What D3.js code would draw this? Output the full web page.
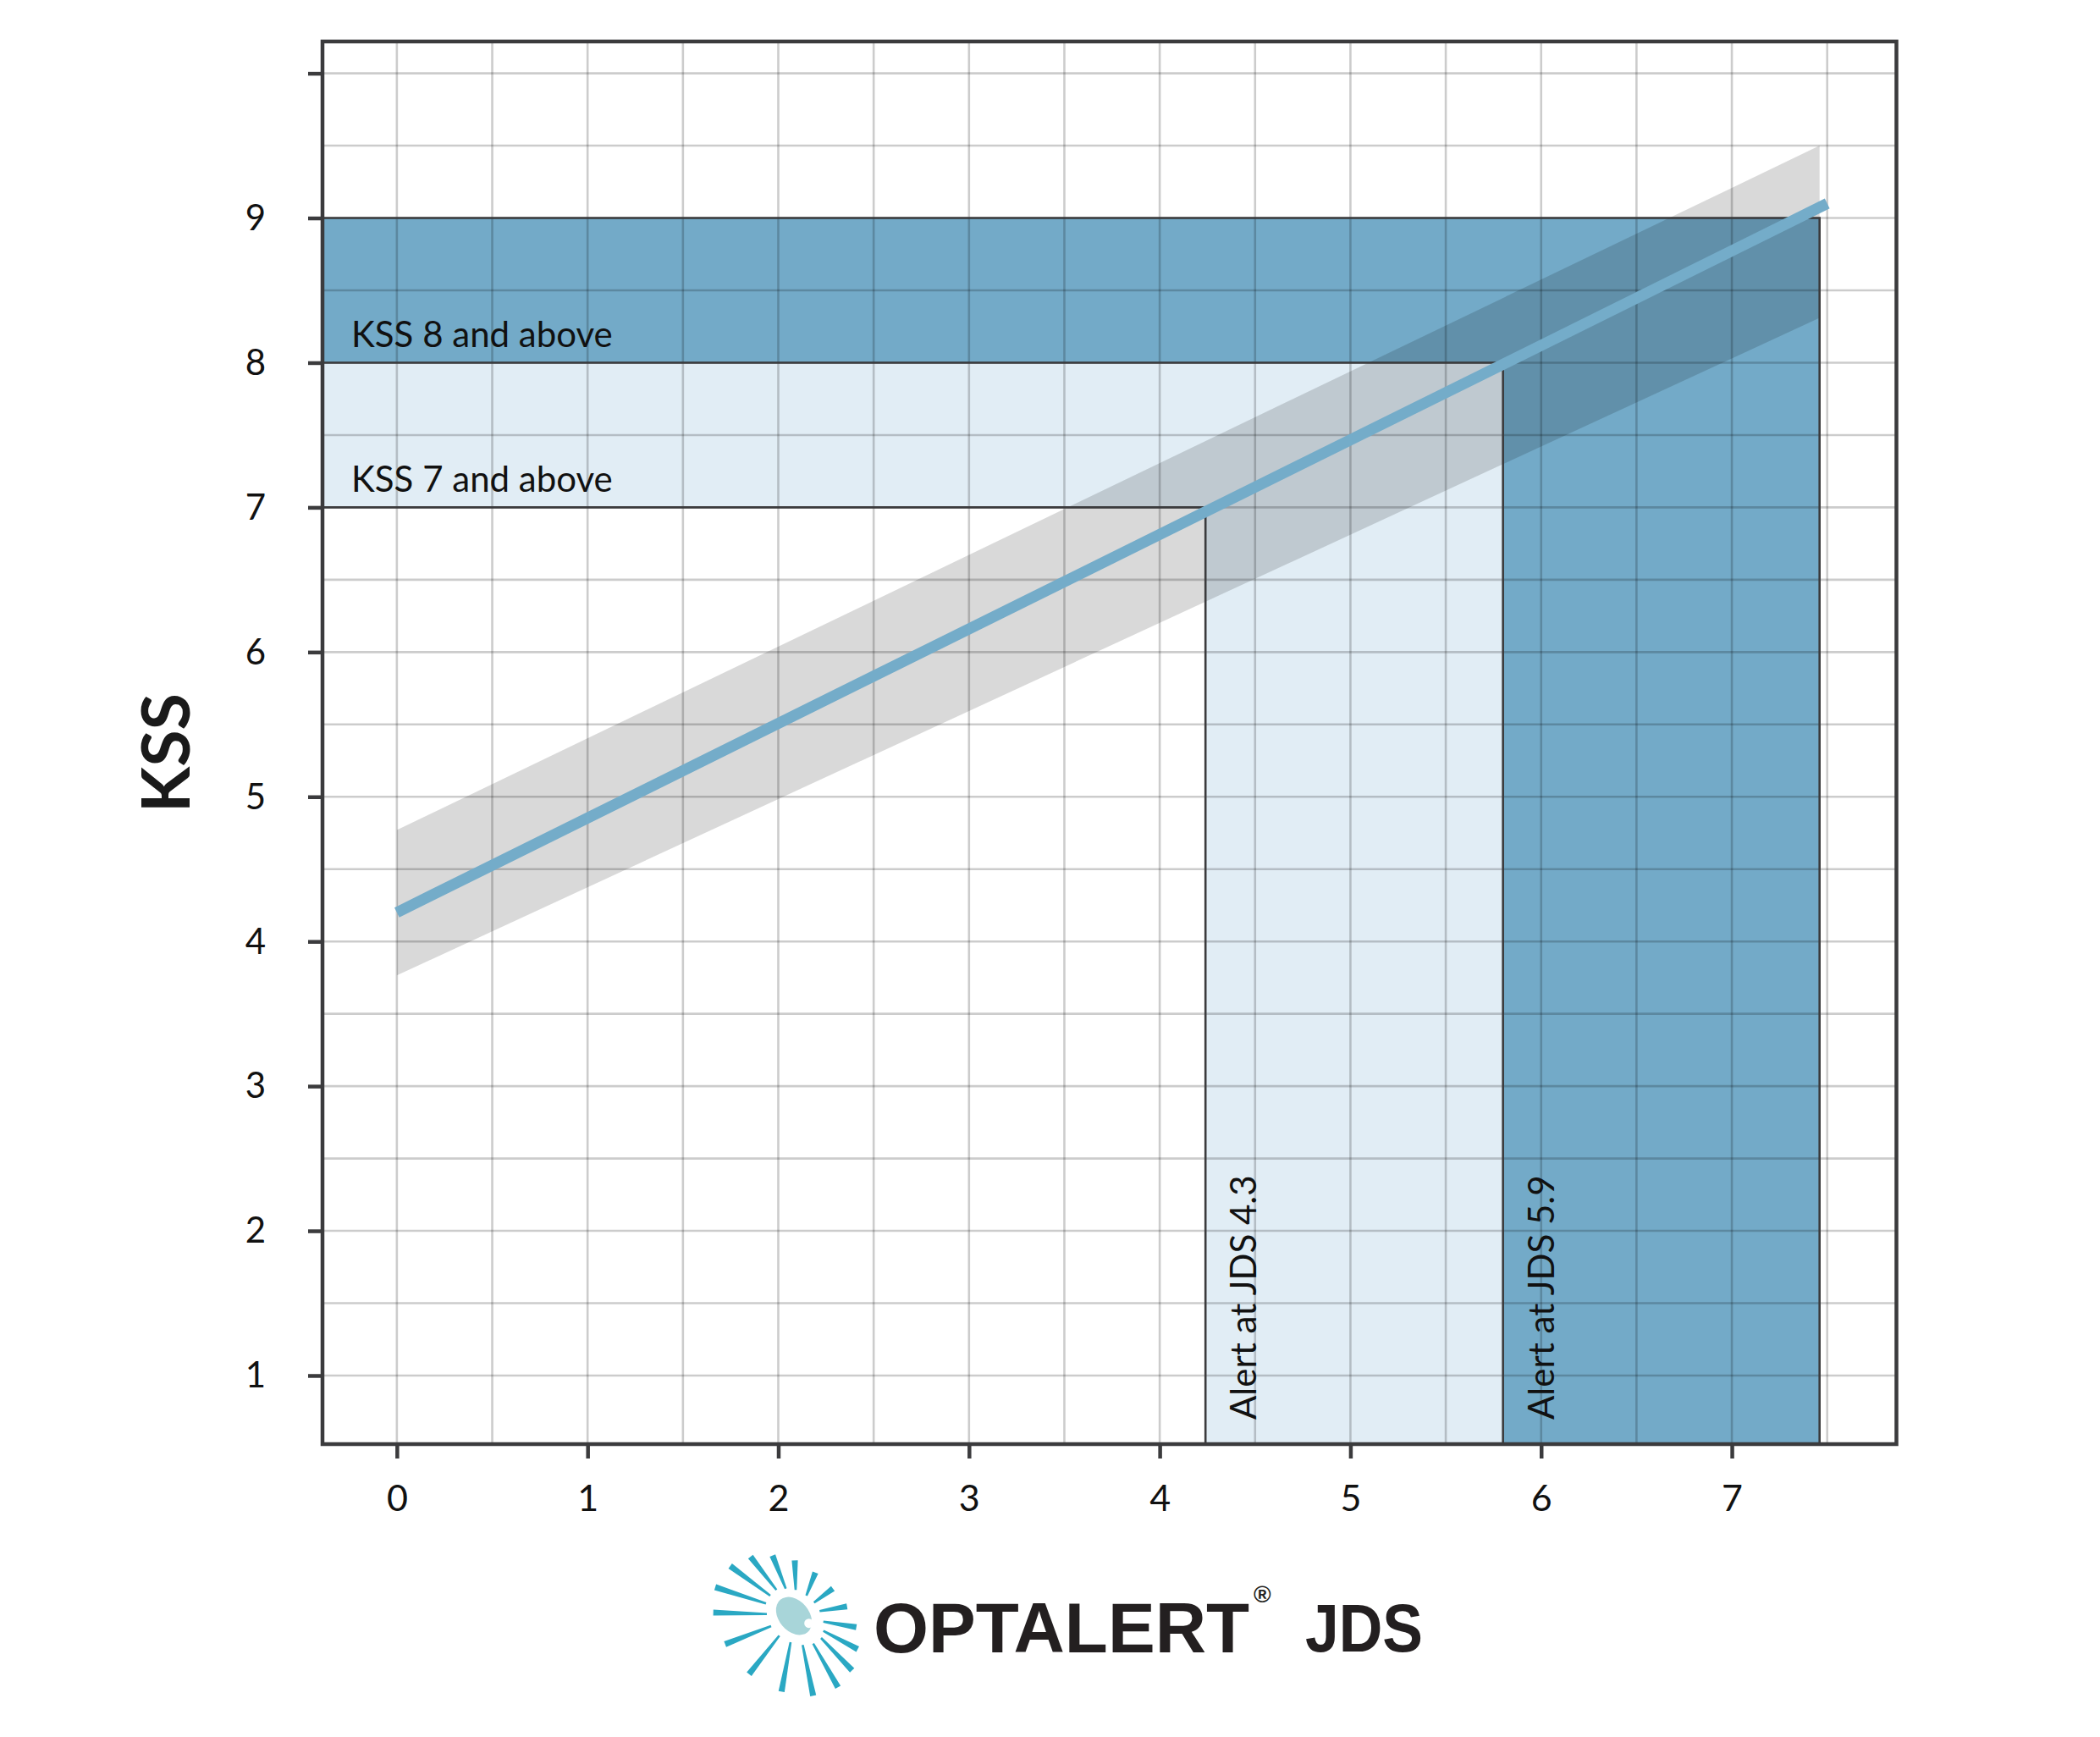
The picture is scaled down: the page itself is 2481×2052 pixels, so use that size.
<!DOCTYPE html>
<html><head><meta charset="utf-8">
<script src="https://cdn.jsdelivr.net/npm/d3@7"></script>
<style>html,body{margin:0;padding:0;background:#fff;} svg{display:block}</style>
</head><body>
<script>
// ---------- data ----------
const xTicks = [0, 1, 2, 3, 4, 5, 6, 7];
const xTickLabels = ["0", "1", "2", "3", "4", "5", "6", "7"];
const yTicks = [1, 2, 3, 4, 5, 6, 7, 8, 9, 10];
const yTickLabels = ["1", "2", "3", "4", "5", "6", "7", "8", "9", ""];
const xGrid = [0, 0.5, 1, 1.5, 2, 2.5, 3, 3.5, 4, 4.5, 5, 5.5, 6, 6.5, 7, 7.5];
const yGrid = [1, 1.5, 2, 2.5, 3, 3.5, 4, 4.5, 5, 5.5, 6, 6.5, 7, 7.5, 8, 8.5, 9, 9.5, 10];
const xDomain = [-0.39, 7.863];
const yDomain = [0.526, 10.22];

// regression line (JDS -> KSS)
const lineJDS = [0, 7.5];
const lineKSS = [4.2, 9.1];
// grey band around it
const bandJDS = [0, 7.46];
const bandUpperKSS = [4.77, 9.50];
const bandLowerKSS = [3.765, 8.31];

// threshold zones
const zoneKSS = [7, 8, 9];          // KSS thresholds (light zone 7-8, dark zone 8-9)
const zoneJDS = [4.24, 5.80, 7.46]; // JDS alert positions / right edge
const zoneLabels = ["KSS 7 and above", "KSS 8 and above"];
const alertLabels = ["Alert at JDS 4.3", "Alert at JDS 5.9"];
const yAxisTitle = "KSS";

// ---------- drawing ----------
(function () {
const W = 2481, H = 2052;
const svg = d3.select("body").append("svg").attr("width", W).attr("height", H);
svg.append("rect").attr("width", W).attr("height", H).attr("fill", "#fff");

const pL = 381, pR = 2240.5, pT = 49, pB = 1706;
const x = d3.scaleLinear().domain(xDomain).range([pL, pR]);
const y = d3.scaleLinear().domain(yDomain).range([pB, pT]);
const xmin = xDomain[0], ymin = yDomain[0];

const FONT = "Lato, 'Open Sans', sans-serif";
const INK = "#3b3b3d";
const LIGHT = "#e1edf5", DARK = "#73aac8", LINEC = "#74acc9";

const poly = pts => "M" + pts.map(p => x(p[0]) + "," + y(p[1])).join("L") + "Z";

// light zone (KSS 7 and above)
svg.append("path").attr("fill", LIGHT).attr("d", poly([
  [xmin, zoneKSS[1]], [zoneJDS[1], zoneKSS[1]], [zoneJDS[1], ymin],
  [zoneJDS[0], ymin], [zoneJDS[0], zoneKSS[0]], [xmin, zoneKSS[0]]]));
// dark zone (KSS 8 and above)
svg.append("path").attr("fill", DARK).attr("d", poly([
  [xmin, zoneKSS[2]], [zoneJDS[2], zoneKSS[2]], [zoneJDS[2], ymin],
  [zoneJDS[1], ymin], [zoneJDS[1], zoneKSS[1]], [xmin, zoneKSS[1]]]));

// grey band
const bandPts = bandJDS.map((d, i) => [d, bandUpperKSS[i]])
  .concat(bandJDS.map((d, i) => [d, bandLowerKSS[i]]).reverse());
svg.append("path").attr("fill", "#000").attr("fill-opacity", 0.15).attr("d", poly(bandPts));

// grid
const grid = svg.append("g").attr("stroke", "#000").attr("stroke-opacity", 0.2).attr("stroke-width", 2.6);
grid.selectAll("line.v").data(xGrid).join("line").attr("class", "v")
  .attr("x1", d => x(d)).attr("x2", d => x(d)).attr("y1", pT).attr("y2", pB);
grid.selectAll("line.h").data(yGrid).join("line").attr("class", "h")
  .attr("y1", d => y(d)).attr("y2", d => y(d)).attr("x1", pL).attr("x2", pR);

// zone outlines
const outline = svg.append("g").attr("fill", "none").attr("stroke", INK).attr("stroke-width", 2.6);
zoneKSS.forEach((k, i) => {
  outline.append("path").attr("d",
    `M${x(xmin)},${y(k)}L${x(zoneJDS[i])},${y(k)}L${x(zoneJDS[i])},${y(ymin)}`);
});

// regression line
svg.append("line")
  .attr("x1", x(lineJDS[0])).attr("y1", y(lineKSS[0]))
  .attr("x2", x(lineJDS[1])).attr("y2", y(lineKSS[1]))
  .attr("stroke", LINEC).attr("stroke-width", 13).attr("stroke-linecap", "butt");

// frame
svg.append("rect").attr("x", pL).attr("y", pT).attr("width", pR - pL).attr("height", pB - pT)
  .attr("fill", "none").attr("stroke", INK).attr("stroke-width", 4.5);

// axes
const yAxis = d3.axisLeft(y).tickValues(yTicks).tickFormat((d, i) => yTickLabels[i]).tickSize(17).tickPadding(50);
const gy = svg.append("g").attr("transform", `translate(${pL},0)`).call(yAxis);
gy.select(".domain").remove();
gy.selectAll(".tick line").attr("stroke", INK).attr("stroke-width", 4.5);
gy.selectAll(".tick text").attr("font-family", FONT).attr("font-size", 42).attr("fill", "#111").attr("dy", "0.33em");

const xAxis = d3.axisBottom(x).tickValues(xTicks).tickFormat((d, i) => xTickLabels[i]).tickSize(17).tickPadding(31);
const gx = svg.append("g").attr("transform", `translate(0,${pB})`).call(xAxis);
gx.select(".domain").remove();
gx.selectAll(".tick line").attr("stroke", INK).attr("stroke-width", 4.5);
gx.selectAll(".tick text").attr("font-family", FONT).attr("font-size", 43).attr("fill", "#111");

// zone labels
zoneLabels.forEach((t, i) => {
  svg.append("text").attr("x", pL + 34).attr("y", y(zoneKSS[i]) - 18)
    .attr("font-family", FONT).attr("font-size", 42).attr("fill", "#111").text(t);
});
// alert labels (vertical)
alertLabels.forEach((t, i) => {
  svg.append("text")
    .attr("transform", `translate(${x(zoneJDS[i]) + 60},${pB - 29}) rotate(-90)`)
    .attr("font-family", FONT).attr("font-size", 42).attr("fill", "#111").text(t);
});

// y axis title
svg.append("text")
  .attr("transform", `translate(224,889.5) rotate(-90)`)
  .attr("text-anchor", "middle")
  .attr("font-family", FONT).attr("font-weight", 700).attr("font-size", 79).attr("fill", "#1a1a1a")
  .text(yAxisTitle);

// ---------- logo ----------
const logo = svg.append("g").attr("transform", "translate(938,1909)");
const rays = [
  [-93, -34, -33, -14.7], [-75.3, -59, -28, -24], [-51.3, -70, -20.7, -30.7], [-25.3, -71.3, -9.7, -32.3],
  [1, -65.7, 2, -30.7], [25.3, -51.3, 14.7, -24], [46, -32.3, 23.7, -15.7], [62.7, -11.3, 30.3, -5.7],
  [73.7, 13.3, 34.7, 6.7], [75.3, 39.3, 34.7, 17.7], [68.7, 64.3, 32, 26], [52, 84.3, 22.7, 32.7],
  [22.7, 94.3, 10.3, 34.3], [-14.7, 89.3, -4, 31], [-53, 68.7, -17.3, 23.3], [-81.3, 33.3, -27, 12],
  [-95.3, -4, -32, -2.3]];
logo.selectAll("path.ray").data(rays).join("path").attr("class", "ray").attr("fill", "#2aa8c3")
  .attr("d", r => {
    const [ox, oy, ix, iy] = r;
    const dx = ox - ix, dy = oy - iy, L = Math.hypot(dx, dy);
    const nx = -dy / L, ny = dx / L, wo = 3.6, wi = 1.3;
    return `M${ox + nx * wo},${oy + ny * wo}L${ox - nx * wo},${oy - ny * wo}L${ix - nx * wi},${iy - ny * wi}L${ix + nx * wi},${iy + ny * wi}Z`;
  });
logo.append("ellipse").attr("rx", 25).attr("ry", 18).attr("transform", "rotate(50)").attr("fill", "#a8d5d9");
logo.append("circle").attr("cx", 17.7).attr("cy", 8.7).attr("r", 5.5).attr("fill", "#fff");

svg.append("text").attr("x", 1032).attr("y", 1952)
  .attr("font-family", "'Liberation Sans', Arial, sans-serif").attr("font-weight", 700).attr("font-size", 83)
  .attr("fill", "#231f20").attr("textLength", 444).attr("lengthAdjust", "spacingAndGlyphs").text("OPTALERT");
svg.append("text").attr("x", 1481).attr("y", 1893)
  .attr("font-family", "'Liberation Sans', Arial, sans-serif").attr("font-weight", 700).attr("font-size", 28)
  .attr("fill", "#231f20").text("®");
svg.append("text").attr("x", 1542).attr("y", 1951)
  .attr("font-family", "'Liberation Sans', Arial, sans-serif").attr("font-weight", 700).attr("font-size", 80)
  .attr("fill", "#231f20").attr("textLength", 139).attr("lengthAdjust", "spacingAndGlyphs").text("JDS");
})();
</script>
</body></html>
